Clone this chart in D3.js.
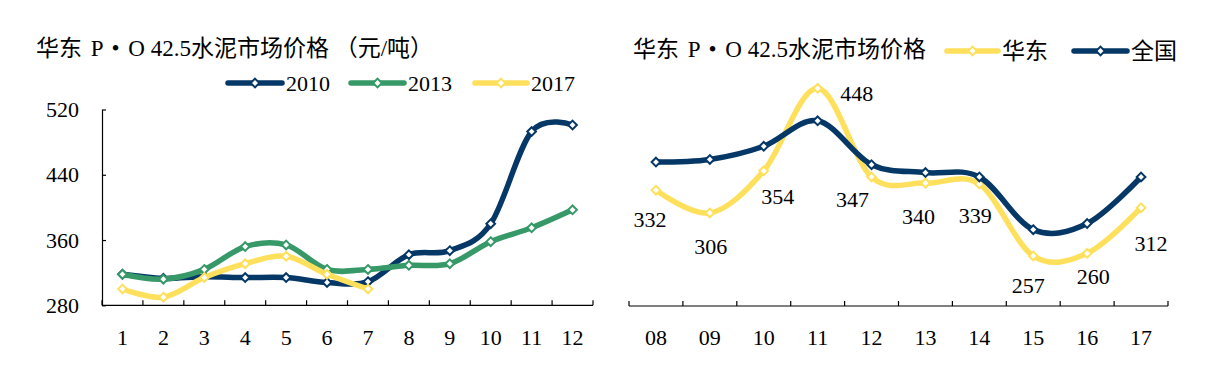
<!DOCTYPE html>
<html><head><meta charset="utf-8">
<script src="https://cdn.jsdelivr.net/npm/d3@7"></script>
<style>
body{margin:0;background:#fff;}
text{font-family:"Liberation Serif","Noto Sans CJK SC",serif;fill:#000;}
</style></head>
<body><svg id="c" width="1206" height="368"></svg>
<script>
// ---------- data ----------
const months = ["1","2","3","4","5","6","7","8","9","10","11","12"];
const s2010 = [318,313,315,314,314,308,309,342,347,380,493,501];
const s2013 = [318,312,324,352,354,324,324,329,331,358,375,397];
const s2017 = [300,290,314,331,340,318,300];
const leftTicks = [280,360,440,520];
const leftSeries = [
  {name:"2010", values:s2010, color:"#053767"},
  {name:"2013", values:s2013, color:"#379968"},
  {name:"2017", values:s2017, color:"#FFE05C"}
];
const years = ["08","09","10","11","12","13","14","15","16","17"];
const eastChina = [332,306,354,448,347,340,339,257,260,312];
const national = [364,367,382,411,361,352,347,287,294,347];
const rightSeries = [
  {name:"华东", values:eastChina, color:"#FFE05C"},
  {name:"全国", values:national, color:"#053767"}
];
// label placement offsets (px) relative to the 华东 points
const labelDx = [-6,1,14,39,-19,-7,-4,-5,6,10];
const labelDy = [29,33,25,5,22,33,31,29,23,36];

const svg = d3.select("#c");
svg.append("rect").attr("width",1206).attr("height",368).attr("fill","#fff");
const FS = 22, TFS = 23;
const diamond = d3.symbol().type(d3.symbolDiamond2).size(48);

function title(g, x, y, tail){
  const t = g.append("text").attr("x",x).attr("y",y).attr("dy","0.35em").attr("font-size",TFS);
  t.append("tspan").text("华东 ");
  t.append("tspan").attr("font-family","Liberation Serif").attr("dx",3).text("P");
  t.append("tspan").attr("font-family","Liberation Serif").attr("dx",3).text(" • ");
  t.append("tspan").attr("font-family","Liberation Serif").attr("dx",3).text("O 42.5");
  t.append("tspan").text("水泥市场价格" + tail);
}
function drawSeries(g, x, y, cats, s){
  const pts = s.values.map((v,i)=>[x(cats[i])+x.bandwidth()/2, y(v)]);
  g.append("path").attr("d", d3.line().curve(d3.curveCatmullRom.alpha(0))(pts))
    .attr("fill","none").attr("stroke",s.color).attr("stroke-width",5.5)
    .attr("stroke-linejoin","round").attr("stroke-linecap","round");
  g.selectAll(null).data(pts).enter().append("path")
    .attr("d",diamond).attr("transform",d=>`translate(${d[0]},${d[1]})`)
    .attr("fill","#fff").attr("stroke",s.color).attr("stroke-width",2);
}
function legendItem(g, x0, x1, y, color, label, fs){
  g.append("line").attr("x1",x0).attr("x2",x1).attr("y1",y).attr("y2",y)
    .attr("stroke",color).attr("stroke-width",5.5).attr("stroke-linecap","round");
  g.append("path").attr("d",diamond).attr("transform",`translate(${(x0+x1)/2},${y})`)
    .attr("fill","#fff").attr("stroke",color).attr("stroke-width",2);
  g.append("text").attr("x",x1+4).attr("y",y).attr("dy","0.35em").attr("font-size",fs).text(label);
}
function bandAxis(g, x, cats, yAxis){
  const r = x.range();
  g.append("line").attr("x1",r[0]).attr("x2",r[1]).attr("y1",yAxis).attr("y2",yAxis)
    .attr("stroke","#000").attr("stroke-width",1.2);
  const bounds = cats.map(c=>x(c)).concat([r[1]]);
  g.selectAll(null).data(bounds).enter().append("line")
    .attr("x1",d=>d).attr("x2",d=>d).attr("y1",yAxis).attr("y2",yAxis-5)
    .attr("stroke","#000").attr("stroke-width",1.2);
  g.selectAll(null).data(cats).enter().append("text")
    .attr("x",d=>x(d)+x.bandwidth()/2).attr("y",337).attr("dy","0.35em")
    .attr("text-anchor","middle").attr("font-size",FS).text(d=>d);
}

// ---------- left chart ----------
const L = svg.append("g");
const xL = d3.scaleBand().domain(months).range([102,593]).padding(0);
const yL = d3.scaleLinear().domain([280,520]).range([305.3,109.5]);
title(L, 36, 47.5, " （元/吨）");
const ya = d3.axisLeft(yL).tickValues(leftTicks).tickSizeInner(-4).tickSizeOuter(0).tickPadding(23);
const yg = L.append("g").attr("transform","translate(102,0)").call(ya);
yg.select(".domain").attr("stroke","#000").attr("stroke-width",1.2);
yg.selectAll(".tick line").attr("stroke","#000").attr("stroke-width",1.2);
yg.selectAll(".tick text").attr("font-size",FS).attr("font-family",null).attr("fill","#000");
bandAxis(L, xL, months, 305.3);
leftSeries.forEach(s=>drawSeries(L, xL, yL, months, s));
legendItem(L, 228, 282, 83, leftSeries[0].color, "2010", FS);
legendItem(L, 351, 404, 83, leftSeries[1].color, "2013", FS);
legendItem(L, 475, 527, 83, leftSeries[2].color, "2017", FS);

// ---------- right chart ----------
const R = svg.append("g");
const xR = d3.scaleBand().domain(years).range([629,1168]).padding(0);
const yR = d3.scaleLinear().domain([200,500]).range([306,42.7]);
title(R, 633, 49, "");
bandAxis(R, xR, years, 306);
rightSeries.forEach(s=>drawSeries(R, xR, yR, years, s));
R.selectAll(null).data(eastChina).enter().append("text")
  .attr("x",(d,i)=>xR(years[i])+xR.bandwidth()/2+labelDx[i])
  .attr("y",(d,i)=>yR(d)+labelDy[i]).attr("dy","0.35em")
  .attr("text-anchor","middle").attr("font-size",FS).text(d=>d);
legendItem(R, 947, 998, 51, rightSeries[0].color, "华东", TFS);
legendItem(R, 1074, 1127, 51, rightSeries[1].color, "全国", TFS);
</script></body></html>
